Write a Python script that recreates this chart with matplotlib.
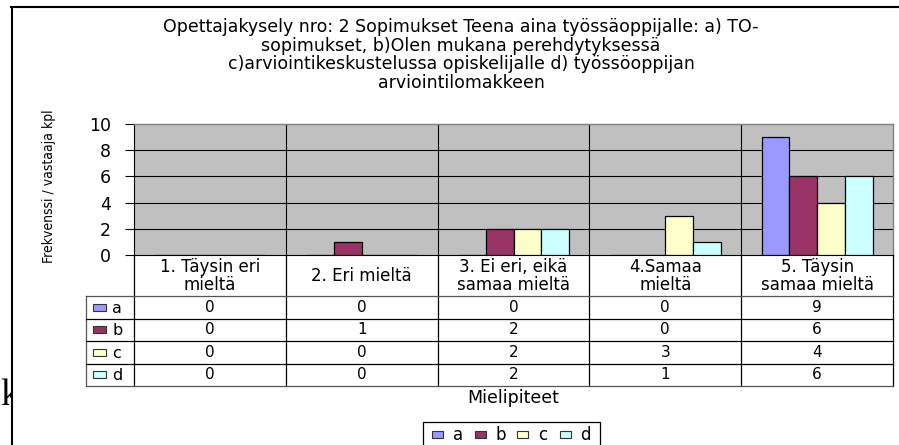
import matplotlib
matplotlib.use('Agg')
import matplotlib.pyplot as plt
from matplotlib.patches import Rectangle
from matplotlib import font_manager
import numpy as np

plt.rcParams['font.family'] = ['DejaVu Sans']

# ---------------- data ----------------
categories = ["1. Täysin eri\nmieltä", "2. Eri mieltä", "3. Ei eri, eikä\nsamaa mieltä",
              "4.Samaa\nmieltä", "5. Täysin\nsamaa mieltä"]
series_names = ["a", "b", "c", "d"]
a_values = [0, 0, 0, 0, 9]
b_values = [0, 1, 2, 0, 6]
c_values = [0, 0, 2, 3, 4]
d_values = [0, 0, 2, 1, 6]
series_colors = ["#9999FF", "#993366", "#FFFFCC", "#CCFFFF"]
yticks = [0, 2, 4, 6, 8, 10]
title = ("Opettajakysely nro: 2 Sopimukset Teena aina työssäoppijalle: a) TO-\n"
         "sopimukset, b)Olen mukana perehdytyksessä\n"
         "c)arviointikeskustelussa opiskelijalle d) työssöoppijan\n"
         "arviointilomakkeen")
ylabel = "Frekvenssi / vastaaja kpl"
xlabel = "Mielipiteet"

series_values = [a_values, b_values, c_values, d_values]

# ---------------- layout ----------------
W, H = 899, 445
fig = plt.figure(figsize=(W / 100, H / 100), dpi=100)
fig.patch.set_facecolor('white')


def rect(x0, y0, x1, y1):
    return [x0 / W, 1 - y1 / H, (x1 - x0) / W, (y1 - y0) / H]


# background: stray letter from the document, white chart area with frame
bg = fig.add_axes([0, 0, 1, 1], zorder=0)
bg.set_xlim(0, W)
bg.set_ylim(H, 0)
bg.axis('off')
bg.text(0, 405, 'k', family=['Liberation Serif', 'DejaVu Serif'], fontsize=27,
        va='baseline', ha='left', zorder=1)
bg.add_patch(Rectangle((12, 7), W, H, facecolor='white', edgecolor='none', zorder=2))
bg.plot([12, 12], [7, H + 5], color='black', lw=1.5, zorder=3)
bg.plot([11.3, W + 5], [7, 7], color='black', lw=1.5, zorder=3)

# plot area
PX0, PY0, PX1, PY1 = 134, 124, 893, 255
ax = fig.add_axes(rect(PX0, PY0, PX1, PY1), zorder=1)
ax.set_facecolor('#C0C0C0')
ax.set_xlim(0, len(categories))
ax.set_ylim(yticks[0], yticks[-1])
n = len(series_names)
bw = 0.1825
xc = np.arange(len(categories)) + 0.5
for j, (vals, col) in enumerate(zip(series_values, series_colors)):
    ax.bar(xc + (j - (n - 1) / 2) * bw, vals, bw, color=col, edgecolor='black',
           linewidth=0.9, zorder=3)
for yv in yticks[1:-1]:
    ax.axhline(yv, color='black', lw=0.8, zorder=1)
for xv in range(1, len(categories)):
    ax.axvline(xv, color='black', lw=0.8, zorder=1)
ax.set_yticks(yticks)
ax.set_xticks([])
ax.tick_params(axis='y', length=6.5, width=0.8, pad=10, labelsize=12.5, colors='black')
for s in ['top', 'right']:
    ax.spines[s].set_color('#808080')
    ax.spines[s].set_linewidth(1.0)
for s in ['left', 'bottom']:
    ax.spines[s].set_color('black')
    ax.spines[s].set_linewidth(0.8)

# overlay: data table, axis title, legend, chart title
ov = fig.add_axes([0, 0, 1, 1], zorder=2)
ov.set_xlim(0, W)
ov.set_ylim(H, 0)
ov.axis('off')
ov.patch.set_alpha(0)

ncat = len(categories)
bx = [PX0 + i * (PX1 - PX0) / ncat for i in range(ncat + 1)]
TX0 = 86
HEAD_BOT = 296
TBOT = 386
ry = [HEAD_BOT + k * (TBOT - HEAD_BOT) / n for k in range(n + 1)]

for b in bx:
    ov.plot([b, b], [PY1, TBOT], color='black', lw=0.9)
ov.plot([TX0, TX0], [HEAD_BOT, TBOT], color='#555555', lw=0.9)
for k, r in enumerate(ry):
    ov.plot([TX0, PX1], [r, r], color='#555555' if k in (0, n) else 'black', lw=0.9)

for i, cat in enumerate(categories):
    ov.text((bx[i] + bx[i + 1]) / 2, (PY1 + HEAD_BOT) / 2 + 0.5, cat, ha='center',
            va='center', fontsize=12, linespacing=0.95, multialignment='center')

for k, (name, vals, col) in enumerate(zip(series_names, series_values, series_colors)):
    yc = (ry[k] + ry[k + 1]) / 2
    ov.add_patch(Rectangle((93, yc - 3.5), 13, 7, facecolor=col, edgecolor='#333333', lw=0.8))
    ov.text(112, yc + 1, name, ha='left', va='center', fontsize=11.5)
    for i, v in enumerate(vals):
        ov.text((bx[i] + bx[i + 1]) / 2, yc, str(v), ha='center', va='center', fontsize=11)

ov.text((PX0 + PX1) / 2, 398, xlabel, ha='center', va='center', fontsize=12.5)

# legend
ov.add_patch(Rectangle((423, 422), 177, 30, facecolor='white', edgecolor='black', lw=0.9))
for k, (name, col) in enumerate(zip(series_names, series_colors)):
    kx = 432 + k * 42.7
    ov.add_patch(Rectangle((kx, 430.5), 11, 7, facecolor=col, edgecolor='#333333', lw=0.8))
    ov.text(kx + 20.5, 434.5, name, ha='left', va='center', fontsize=12)

ov.text(461, 55, title, ha='center', va='center', fontsize=12.5, linespacing=1.05,
        multialignment='center')

# y-axis title: narrow font if one is available
cond = font_manager.FontProperties(family='DejaVu Sans', stretch='condensed', size=10)
cond_file = font_manager.findfont(cond, fallback_to_default=True)
if 'condensed' in cond_file.lower():
    ylab_props = dict(fontproperties=cond)
else:
    ylab_props = dict(family=['Liberation Sans', 'DejaVu Sans'], fontsize=9.8)
ov.text(49, 186, ylabel, rotation=90, ha='center', va='center', **ylab_props)

fig.savefig('out.png', dpi=100, facecolor='white')
